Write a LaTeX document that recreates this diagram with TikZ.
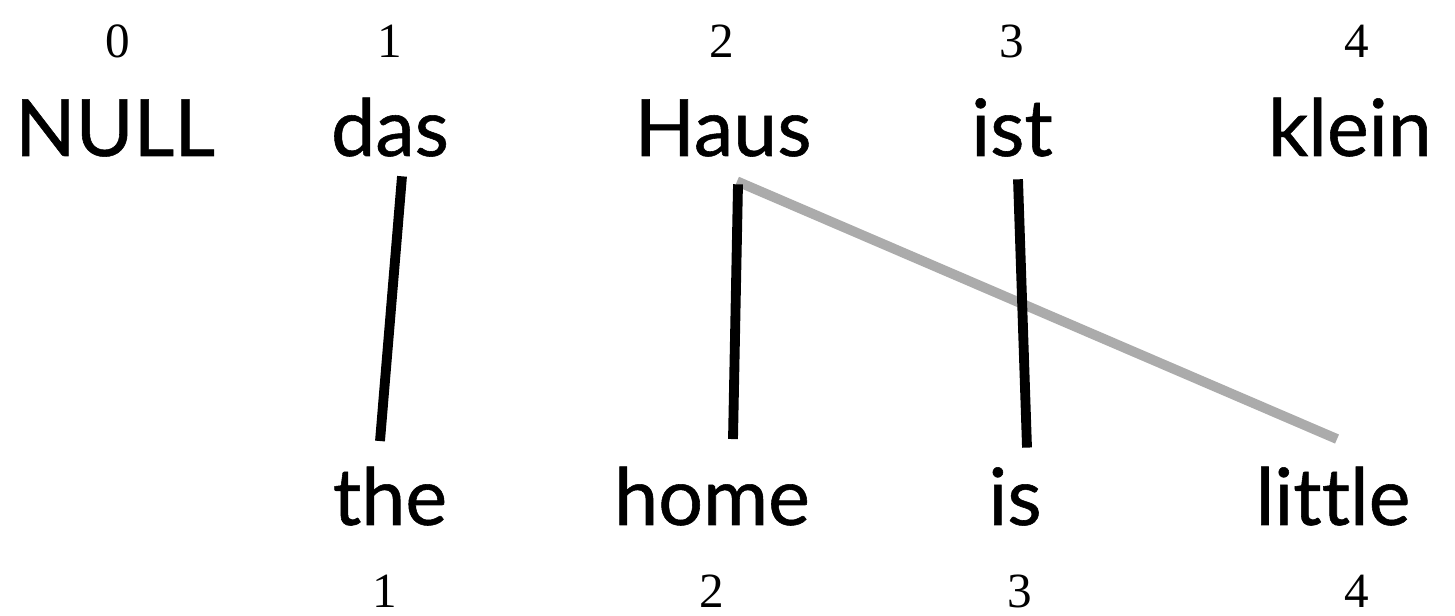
\documentclass[tikz,border=0pt]{standalone}
\usepackage{fontspec}
\setmainfont{Liberation Serif}
\newfontfamily\wordfont[Ligatures=NoCommon, BoldFont=Lato, BoldFeatures={FakeBold=0.7, Ligatures=NoCommon}]{Lato}
\begin{document}
\begin{tikzpicture}[
    palabra/.style={anchor=base, inner sep=0pt, font=\wordfont\bfseries\fontsize{22.5}{26}\selectfont},
    indice/.style={anchor=base, inner sep=0pt, font=\fontsize{14}{16}\selectfont},
    enlace/.style={line width=2.8pt, black},
    enlacegris/.style={line width=2.8pt, black!33}]
    \useasboundingbox (0,0) rectangle (14.55,6.16);
    % Indices de arriba
    \foreach \x/\n in {1.18/0, 3.90/1, 7.22/2, 10.12/3, 13.57/4} {
        \node[indice] (ia\n) at (\x, 5.58) {\n};
    }
    % Palabras alemanas
    \node[palabra] (null) at (1.15, 4.60) {NULL};
    \node[palabra] (das) at (3.90, 4.60) {das};
    \node[palabra] (haus) at (7.23, 4.60) {Haus};
    \node[palabra] (ist) at (10.12, 4.60) {ist};
    \node[palabra] (klein) at (13.50, 4.60) {klein};
    % Palabras inglesas
    \node[palabra] (the) at (3.90, 0.91) {the};
    \node[palabra] (home) at (7.12, 0.91) {home};
    \node[palabra] (is) at (10.15, 0.91) {is};
    \node[palabra] (little) at (13.33, 0.91) {little};
    % Indices de abajo
    \foreach \x/\n in {3.85/1, 7.12/2, 10.20/3, 13.57/4} {
        \node[indice] (ib\n) at (\x, 0.08) {\n};
    }
    % Alineamientos
    \draw[enlacegris] ([xshift=1.4mm, yshift=-2.4mm]haus.south) -- ([xshift=0.4mm, yshift=2.7mm]little.north);
    \draw[enlace] ([xshift=1.2mm, yshift=-1.9mm]das.south) -- ([xshift=-1mm, yshift=2.5mm]the.north);
    \draw[enlace] ([xshift=1.5mm, yshift=-2.7mm]haus.south) -- ([xshift=2.1mm, yshift=2.7mm]home.north);
    \draw[enlace] ([xshift=0.6mm, yshift=-2.2mm]ist.south) -- ([xshift=1.2mm, yshift=1.9mm]is.north);
\end{tikzpicture}
\end{document}
